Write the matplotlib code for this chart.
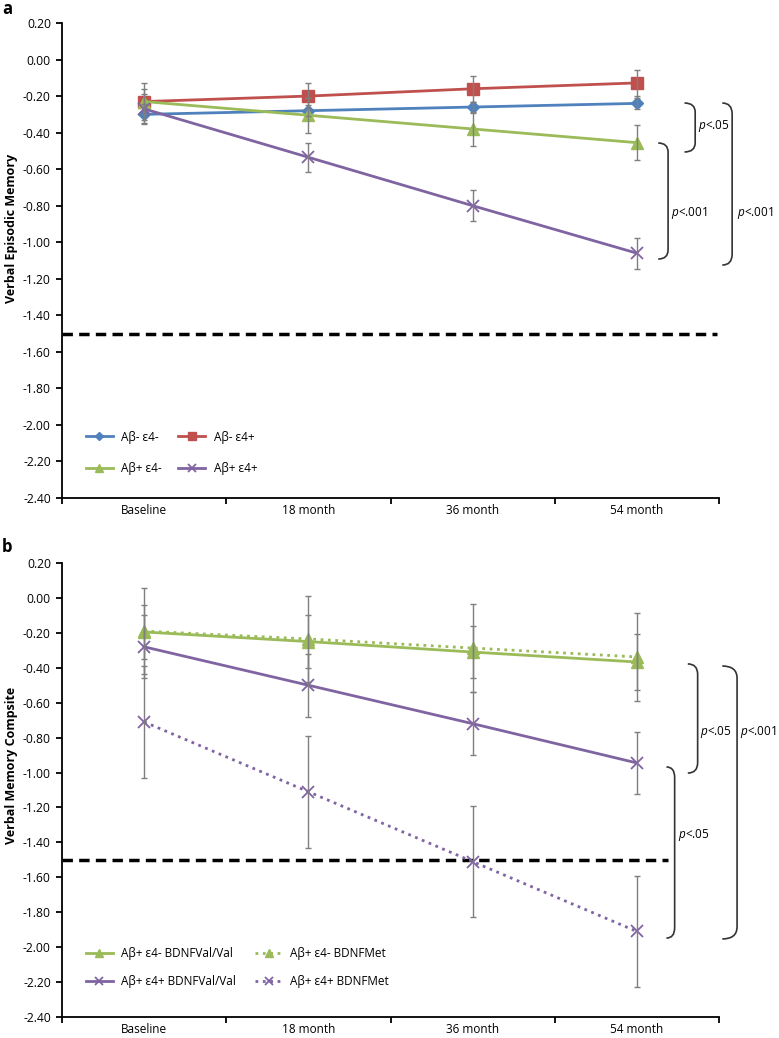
import numpy as np
import matplotlib
matplotlib.use("Agg")
import matplotlib.pyplot as plt
from matplotlib.path import Path
from matplotlib.patches import PathPatch
from matplotlib.ticker import FixedLocator, FormatStrFormatter, NullFormatter

plt.rcParams['font.family'] = ['Open Sans', 'DejaVu Sans']
plt.rcParams['axes.unicode_minus'] = False
plt.rcParams['mathtext.fontset'] = 'custom'
plt.rcParams['mathtext.it'] = 'Open Sans:italic'
plt.rcParams['mathtext.rm'] = 'Open Sans'

# ---------------- data ----------------
categories = ['Baseline', '18 month', '36 month', '54 month']

# Panel a: Verbal Episodic Memory
a_labels = ['Aβ- ε4-', 'Aβ- ε4+', 'Aβ+ ε4-', 'Aβ+ ε4+']
a_neg_neg = [-0.30, -0.28, -0.26, -0.24]
a_neg_neg_err = [0.055, 0.03, 0.03, 0.03]
a_neg_pos = [-0.23, -0.20, -0.16, -0.128]
a_neg_pos_err = [0.10, 0.07, 0.07, 0.07]
a_pos_neg = [-0.23, -0.305, -0.38, -0.455]
a_pos_neg_err = [0.07, 0.095, 0.095, 0.095]
a_pos_pos = [-0.27, -0.535, -0.80, -1.06]
a_pos_pos_err = [0.08, 0.08, 0.085, 0.085]

# Panel b: Verbal Memory Composite
b_labels = ['Aβ+ ε4- BDNFVal/Val', 'Aβ+ ε4- BDNFMet',
            'Aβ+ ε4+ BDNFVal/Val', 'Aβ+ ε4+ BDNFMet']
b_neg_val = [-0.195, -0.25, -0.31, -0.367]
b_neg_val_err = [0.155, 0.15, 0.15, 0.16]
b_neg_met = [-0.19, -0.235, -0.287, -0.338]
b_neg_met_err = [0.245, 0.245, 0.25, 0.25]
b_pos_val = [-0.28, -0.50, -0.72, -0.945]
b_pos_val_err = [0.18, 0.18, 0.18, 0.18]
b_pos_met = [-0.71, -1.11, -1.51, -1.91]
b_pos_met_err = [0.32, 0.32, 0.32, 0.32]

threshold = -1.50
yticks = [0.20, 0.00, -0.20, -0.40, -0.60, -0.80, -1.00, -1.20, -1.40,
          -1.60, -1.80, -2.00, -2.20, -2.40]

BLUE = '#4F81BD'
RED = '#C0504D'
GREEN = '#9BBB59'
PURPLE = '#8064A2'
GRAY = '#7f7f7f'

fig = plt.figure(figsize=(7.79, 10.38), dpi=100)
W, H = 779, 1038


def ax_at(x0, y0, x1, y1):
    return fig.add_axes([x0 / W, 1 - y1 / H, (x1 - x0) / W, (y1 - y0) / H])


ax_a = ax_at(62, 23, 719, 498)
ax_b = ax_at(62, 563, 719, 1017)

x = np.arange(len(categories))


def style_axes(ax):
    ax.set_xlim(-0.5, 3.5)
    ax.set_ylim(-2.40, 0.20)
    ax.spines['top'].set_visible(False)
    ax.spines['right'].set_visible(False)
    ax.spines['left'].set_linewidth(1.3)
    ax.spines['bottom'].set_linewidth(1.3)
    ax.yaxis.set_major_locator(FixedLocator(yticks))
    ax.yaxis.set_major_formatter(FormatStrFormatter('%.2f'))
    ax.xaxis.set_major_locator(FixedLocator([-0.5, 0.5, 1.5, 2.5, 3.5]))
    ax.xaxis.set_major_formatter(NullFormatter())
    ax.xaxis.set_minor_locator(FixedLocator(list(x)))
    ax.set_xticklabels(categories, minor=True)
    ax.tick_params(axis='x', which='major', direction='out', length=4, width=1.3)
    ax.tick_params(axis='x', which='minor', length=0, labelsize=8.5, pad=4)
    ax.tick_params(axis='y', direction='out', length=4, width=1.3,
                   labelsize=8.7, pad=4)


def series(ax, y, e, color, marker, ms, ls='-', label=None, mew=1.0):
    ax.errorbar(x, y, yerr=e, fmt='none', ecolor=GRAY, elinewidth=1,
                capsize=2.5, capthick=1, zorder=4)
    line, = ax.plot(x, y, color=color, lw=2, ls=ls, marker=marker, ms=ms,
                    mfc=color, mec=color, mew=mew, label=label, zorder=3)
    return line


def bracket(ax, x0, x1, ytop, ybot, r):
    verts = [(x0, ytop), (x1, ytop), (x1, ytop - r),
             (x1, ybot + r), (x1, ybot), (x0, ybot)]
    codes = [Path.MOVETO, Path.CURVE3, Path.CURVE3,
             Path.LINETO, Path.CURVE3, Path.CURVE3]
    ax.add_patch(PathPatch(Path(verts, codes), fill=False, lw=1.2,
                           ec='#333333', clip_on=False))


# ---------------- panel a ----------------
style_axes(ax_a)
h1 = series(ax_a, a_neg_neg, a_neg_neg_err, BLUE, 'D', 6.5, label=a_labels[0])
h2 = series(ax_a, a_neg_pos, a_neg_pos_err, RED, 's', 8, label=a_labels[1])
h3 = series(ax_a, a_pos_neg, a_pos_neg_err, GREEN, '^', 8, label=a_labels[2])
h4 = series(ax_a, a_pos_pos, a_pos_pos_err, PURPLE, 'x', 9, label=a_labels[3], mew=1.3)
ax_a.axhline(threshold, xmin=0.0, xmax=0.997, color='black', lw=2.5,
             dashes=(3, 1.8), zorder=2)
ax_a.legend([h1, h3, h2, h4], [a_labels[0], a_labels[2], a_labels[1], a_labels[3]],
            ncol=2, loc='lower left', bbox_to_anchor=(0.02, 0.025),
            frameon=False, fontsize=8.5, handlelength=2.3, handletextpad=0.7,
            columnspacing=1.4, labelspacing=1.6, numpoints=1,
            markerscale=0.7)

bracket(ax_a, 3.29, 3.355, -0.238, -0.506, 0.05)
bracket(ax_a, 3.13, 3.19, -0.457, -1.092, 0.05)
bracket(ax_a, 3.52, 3.58, -0.238, -1.125, 0.06)
ax_a.text(3.37, -0.364, r'$p$<.05', fontsize=8.5, va='center', ha='left')
ax_a.text(3.205, -0.84, r'$p$<.001', fontsize=8.5, va='center', ha='left')
ax_a.text(3.61, -0.84, r'$p$<.001', fontsize=8.5, va='center', ha='left',
          clip_on=False)

# ---------------- panel b ----------------
style_axes(ax_b)
g1 = series(ax_b, b_neg_val, b_neg_val_err, GREEN, '^', 8, label=b_labels[0])
g2 = series(ax_b, b_neg_met, b_neg_met_err, GREEN, '^', 8, ls=':', label=b_labels[1])
g3 = series(ax_b, b_pos_val, b_pos_val_err, PURPLE, 'x', 9, label=b_labels[2], mew=1.3)
g4 = series(ax_b, b_pos_met, b_pos_met_err, PURPLE, 'x', 9, ls=':', label=b_labels[3], mew=1.3)
ax_b.axhline(threshold, xmin=0.0, xmax=0.922, color='black', lw=2.5,
             dashes=(3, 1.8), zorder=2)
ax_b.legend([g1, g3, g2, g4], [b_labels[0], b_labels[2], b_labels[1], b_labels[3]],
            ncol=2, loc='lower left', bbox_to_anchor=(0.02, 0.04),
            frameon=False, fontsize=8.5, handlelength=2.3, handletextpad=0.7,
            columnspacing=1.6, labelspacing=1.3, numpoints=1,
            markerscale=0.7)

bracket(ax_b, 3.31, 3.37, -0.378, -1.003, 0.06)
bracket(ax_b, 3.18, 3.23, -0.968, -1.948, 0.06)
bracket(ax_b, 3.52, 3.61, -0.39, -1.953, 0.07)
ax_b.text(3.385, -0.768, r'$p$<.05', fontsize=8.5, va='center', ha='left')
ax_b.text(3.25, -1.358, r'$p$<.05', fontsize=8.5, va='center', ha='left')
ax_b.text(3.63, -0.768, r'$p$<.001', fontsize=8.5, va='center', ha='left',
          clip_on=False)

# ---------------- labels ----------------
fig.text(12 / W, 1 - 228 / H, 'Verbal Episodic Memory', rotation=90,
         fontsize=9, fontweight='bold', ha='center', va='center')
fig.text(12 / W, 1 - 765 / H, 'Verbal Memory Compsite', rotation=90,
         fontsize=9, fontweight='bold', ha='center', va='center')
fig.text(2 / W, 1 - 9 / H, 'a', fontsize=12, fontweight='bold',
         ha='left', va='center')
fig.text(2 / W, 1 - 547 / H, 'b', fontsize=12, fontweight='bold',
         ha='left', va='center')

fig.savefig('out.png', dpi=100)
